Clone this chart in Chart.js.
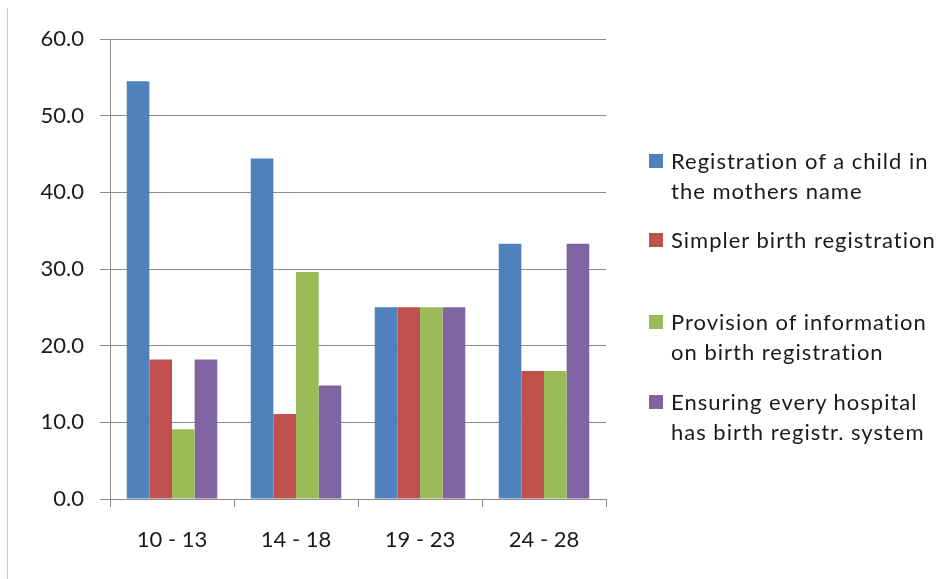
<!DOCTYPE html>
<html>
<head>
<meta charset="utf-8">
<title>Birth registration preferences by age group</title>
<script src="https://cdn.jsdelivr.net/npm/chart.js@4"></script>
<style>
    html, body {
        margin: 0;
        padding: 0;
        background: #ffffff;
    }
    #wrap {
        position: relative;
        width: 943px;
        height: 579px;
        overflow: hidden;
    }
    #frameLine {
        position: absolute;
        left: 7px;
        top: 8px;
        bottom: 0;
        border-left: 1px solid #c8c8c8;
    }
    #legend {
        position: absolute;
        left: 649px;
        top: 0;
        font-family: Lato, "Open Sans", sans-serif;
        font-size: 22px;
        letter-spacing: 1px;
        line-height: 30px;
        color: #1a1a1a;
    }
    .item {
        position: absolute;
        left: 0;
        white-space: nowrap;
    }
    .swatch {
        position: absolute;
        left: 0;
        top: 8px;
        width: 14px;
        height: 14px;
    }
    .text {
        margin-left: 22px;
    }
</style>
</head>
<body>
<div id="wrap">
    <div id="frameLine"></div>
    <canvas id="ageChart" width="943" height="579"></canvas>
    <div id="legend"></div>
</div>
<script>
// Data
const ageGroups = ['10 - 13', '14 - 18', '19 - 23', '24 - 28'];

const motherName = [54.5, 44.4, 25.0, 33.3];
const simplerReg = [18.2, 11.1, 25.0, 16.7];
const provisionInfo = [9.1, 29.6, 25.0, 16.7];
const hospitalSystem = [18.2, 14.8, 25.0, 33.3];

const seriesLabels = [
    ['Registration of a child in', 'the mothers name'],
    ['Simpler birth registration'],
    ['Provision of information', 'on birth registration'],
    ['Ensuring every hospital', 'has birth registr. system']
];

const yTicks = [0, 10, 20, 30, 40, 50, 60];

const seriesColors = ['#4F81BD', '#C0504D', '#9BBB59', '#8064A2'];

// Legend item tops (px, relative to page)
const legendTops = [146, 225, 307, 387];

const seriesValues = [motherName, simplerReg, provisionInfo, hospitalSystem];

const fontFamily = 'Lato, "Open Sans", sans-serif';
const textColor = '#1a1a1a';
const gridColor = '#8c8c8c';

const ctx = document.getElementById('ageChart').getContext('2d');

const ageChart = new Chart(ctx, {
    type: 'bar',
    data: {
        labels: ageGroups,
        datasets: seriesValues.map((values, i) => ({
            label: seriesLabels[i].join(' '),
            data: values,
            backgroundColor: seriesColors[i],
            borderWidth: 0,
            categoryPercentage: 0.73,
            barPercentage: 1.0
        }))
    },
    options: {
        responsive: false,
        animation: false,
        devicePixelRatio: 1,
        layout: {
            padding: { left: 0, top: 39, right: 337, bottom: 0 }
        },
        plugins: {
            legend: { display: false },
            tooltip: { enabled: false }
        },
        scales: {
            x: {
                grid: {
                    display: true,
                    drawOnChartArea: false,
                    drawTicks: true,
                    tickLength: 8,
                    color: gridColor,
                    offset: true
                },
                border: { color: gridColor, width: 1 },
                ticks: {
                    color: textColor,
                    font: { family: fontFamily, size: 22 },
                    padding: 20,
                    maxRotation: 0
                },
                afterFit(scale) {
                    scale.height = 80;
                }
            },
            y: {
                min: 0,
                max: 60,
                afterBuildTicks(scale) {
                    scale.ticks = yTicks.map(v => ({ value: v }));
                },
                grid: {
                    color: gridColor,
                    tickLength: 10,
                    drawTicks: true
                },
                border: { color: gridColor, width: 1 },
                ticks: {
                    color: textColor,
                    font: { family: fontFamily, size: 22 },
                    padding: 16,
                    callback: v => Number(v).toFixed(1)
                },
                afterFit(scale) {
                    scale.width = 110;
                }
            }
        }
    }
});

// HTML legend with wrapped labels
function buildLegend() {
    const legendEl = document.getElementById('legend');
    seriesLabels.forEach((lines, i) => {
        const item = document.createElement('div');
        item.className = 'item';
        item.style.top = legendTops[i] + 'px';

        const swatch = document.createElement('span');
        swatch.className = 'swatch';
        swatch.style.background = seriesColors[i];

        const text = document.createElement('div');
        text.className = 'text';
        text.innerHTML = lines.join('<br>');

        item.appendChild(swatch);
        item.appendChild(text);
        legendEl.appendChild(item);
    });
}

buildLegend();
</script>
</body>
</html>
